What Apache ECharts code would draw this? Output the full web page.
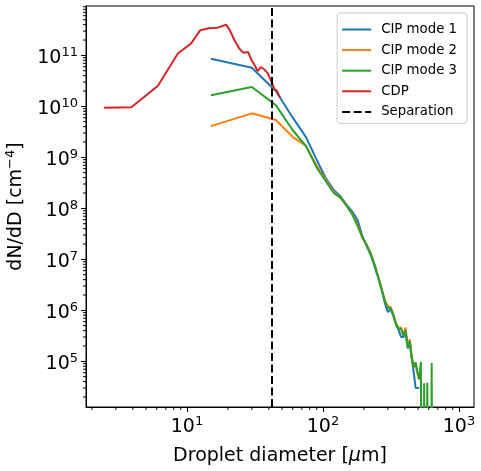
<!DOCTYPE html>
<html>
<head>
<meta charset="utf-8">
<script src="https://cdn.jsdelivr.net/npm/echarts@6/dist/echarts.min.js"></script>
<style>
html, body { margin: 0; padding: 0; background: #fff; }
#chart { width: 481px; height: 471px; }
</style>
</head>
<body>
<div id="chart"></div>
<script>
// CIP bin centres (um) and the three CIP modes, dN/dD in cm^-4
const cipDiameter = [15, 30, 45, 60, 75, 90, 105, 120, 135, 150, 165, 180, 195, 210, 225,
    240, 255, 270, 285, 300, 315, 330, 345, 360, 375, 390, 405, 420, 435, 450, 465, 480,
    495, 510, 525, 540, 555, 570, 585, 600, 615, 630, 645];
const cipMode1 = [8.6e10, 5.7e10, 2.0e10, 6.0e9, 2.5e9, 8.9e8, 3.9e8, 2.3e8, 1.7e8, 1.15e8,
    8.5e7, 5.9e7, 2.8e7, 1.8e7, 1.2e7, 7.2e6, 4.3e6, 2.5e6, 1.4e6, 9.2e5, 1.05e6, 7.6e5,
    5.2e5, 4.1e5, 3.0e5, 3.0e5, 3.4e5, 1.8e5, 2.3e5, 1.1e5, 6.1e4, 3.0e4, 3.0e4, 3.0e4,
    null, null, null, null, null, null, null, null, null];
const cipMode2 = [4.1e9, 7.3e9, 5.4e9, 2.5e9, 1.7e9, 6.8e8, 3.6e8, 2.1e8, 1.6e8, 1.1e8,
    7.6e7, 4.8e7, 2.6e7, 1.9e7, 1.3e7, 7.9e6, 4.6e6, 2.7e6, 1.6e6, 1.2e6, 1.15e6, 8.2e5,
    5.6e5, 4.5e5, 4.6e5, 3.4e5, 4.6e5, 2.0e5, 2.7e5, 1.2e5, 8.0e4, 9.0e4, 5.8e4, 4.3e4,
    null, null, null, null, null, null, null, null, null];
const cipMode3 = [1.66e10, 2.4e10, 1.06e10, 3.4e9, 1.66e9, 6.3e8, 3.4e8, 2.0e8, 1.6e8, 1.1e8,
    7.4e7, 4.5e7, 2.7e7, 1.9e7, 1.26e7, 7.7e6, 4.5e6, 2.6e6, 1.5e6, 1.1e6, 1.1e6, 7.9e5,
    5.4e5, 4.3e5, 4.3e5, 3.2e5, 4.1e5, 1.9e5, 2.5e5, 1.16e5, 7.6e4, 9.6e4, 6.1e4, 4.5e4,
    9.8e4, 0, 3.7e4, 0, 3.8e4, 3.9e4, 0, 9.3e4, 0];

// CDP
const cdpDiameter = [2.45, 3.9, 6.1, 8.6, 10.7, 12.5, 14.5, 16.8, 19.4, 20.7, 22.3, 24.3,
    25.9, 28.2, 29.9, 32.0, 33.1, 35.0, 37.0, 39.2, 41.5, 43.9, 45.7, 46.9, 48.3];
const cdpValues = [9.4e9, 9.6e9, 2.5e10, 1.1e11, 1.7e11, 3.1e11, 3.4e11, 3.5e11, 4.0e11,
    3.1e11, 2.0e11, 1.35e11, 1.13e11, 1.16e11, 8.0e10, 5.9e10, 4.9e10, 5.9e10, 5.3e10,
    4.5e10, 3.2e10, 2.2e10, 2.05e10, 1.9e10, 1.5e10];

const separationDiameter = 42;

const xRange = [1.81, 1290];
const yRange = [1.27e4, 9.3e11];
const xMinorTicks = [2, 3, 4, 5, 6, 7, 8, 9, 20, 30, 40, 50, 60, 70, 80, 90,
    200, 300, 400, 500, 600, 700, 800, 900];
const yMinorTicks = [];
[4, 5, 6, 7, 8, 9, 10, 11].forEach(function (e) {
    [2, 3, 4, 5, 6, 7, 8, 9].forEach(function (m) {
        const v = m * Math.pow(10, e);
        if (v > yRange[0] && v < yRange[1]) yMinorTicks.push(v);
    });
});

const colors = ['#1f77b4', '#ff7f0e', '#2ca02c', '#d62728'];
const FONT = 'DejaVu Sans';

// zeros go far below the axis like matplotlib's log clip
function pairs(xs, ys) {
    const out = [];
    xs.forEach(function (x, i) {
        const y = ys[i];
        if (y === null || y === undefined) return;
        out.push([x, y > 0 ? y : 1e-3]);
    });
    return out;
}

function powLabel(v) {
    const e = Math.log10(v);
    const r = Math.round(e);
    if (Math.abs(e - r) > 1e-6) return '';
    return '{b|10}{s|' + r + '}';
}

const tickRich = {
    b: { fontFamily: FONT, fontSize: 19, lineHeight: 19, padding: [5, 0, 0, 0], color: '#000' },
    s: { fontFamily: FONT, fontSize: 13, lineHeight: 13, verticalAlign: 'top', color: '#000' }
};

function lineSeries(name, data, color) {
    return {
        name: name,
        type: 'line',
        data: data,
        symbol: 'none',
        showSymbol: false,
        animation: false,
        lineStyle: { color: color, width: 2 },
        itemStyle: { color: color }
    };
}

function minorTickSeries(values, isX) {
    return {
        type: 'custom',
        silent: true,
        animation: false,
        clip: false,
        data: values.map(function (v) { return isX ? [v, yRange[0]] : [xRange[0], v]; }),
        renderItem: function (params, api) {
            const p = api.coord([api.value(0), api.value(1)]);
            return {
                type: 'line',
                shape: isX ? { x1: p[0], y1: p[1], x2: p[0], y2: p[1] + 3 }
                           : { x1: p[0], y1: p[1], x2: p[0] - 3, y2: p[1] },
                style: { stroke: '#000', lineWidth: 1 }
            };
        }
    };
}

const chart = echarts.init(document.getElementById('chart'));
chart.setOption({
    animation: false,
    textStyle: { fontFamily: FONT },
    grid: {
        left: 86, right: 7, top: 6, bottom: 64,
        outerBoundsMode: 'none',
        containLabel: false,
        show: true, borderColor: '#000', borderWidth: 1, backgroundColor: '#fff'
    },
    legend: {
        data: ['CIP mode 1', 'CIP mode 2', 'CIP mode 3', 'CDP', 'Separation'],
        orient: 'vertical',
        right: 14,
        top: 13,
        padding: [10, 10, 5, 4],
        itemWidth: 29,
        itemHeight: 14,
        itemGap: 7.6,
        backgroundColor: 'rgba(255,255,255,0.8)',
        borderColor: '#cccccc',
        borderWidth: 1,
        borderRadius: 3,
        itemStyle: { opacity: 0 },
        textStyle: { fontFamily: FONT, fontSize: 13.3, color: '#000', padding: [0, 0, 0, 5] }
    },
    xAxis: {
        type: 'log',
        logBase: 10,
        min: xRange[0],
        max: xRange[1],
        name: '{n|Droplet diameter [}{mu|\u03bc}{n|m]}',
        nameLocation: 'middle',
        nameGap: 40,
        nameTextStyle: {
            rich: {
                n: { fontFamily: FONT, fontSize: 19, color: '#000' },
                mu: { fontFamily: FONT, fontSize: 19, fontStyle: 'italic', color: '#000' }
            }
        },
        axisLine: { show: true, onZero: false, lineStyle: { color: '#000', width: 1 } },
        axisTick: { show: true, inside: false, length: 5, lineStyle: { color: '#000', width: 1 } },
        axisLabel: { margin: 8, formatter: powLabel, rich: tickRich, showMinLabel: false, showMaxLabel: false },
        splitLine: { show: false }
    },
    yAxis: {
        type: 'log',
        logBase: 10,
        min: yRange[0],
        max: yRange[1],
        name: '{n|dN/dD [cm}{s|\u22124}{n|]}',
        nameLocation: 'middle',
        nameRotate: 90,
        nameGap: 63,
        nameTextStyle: {
            rich: {
                n: { fontFamily: FONT, fontSize: 19, lineHeight: 19, padding: [5, 0, 0, 0], color: '#000' },
                s: { fontFamily: FONT, fontSize: 13, lineHeight: 13, verticalAlign: 'top', color: '#000' }
            }
        },
        axisLine: { show: true, onZero: false, lineStyle: { color: '#000', width: 1 } },
        axisTick: { show: true, inside: false, length: 5, lineStyle: { color: '#000', width: 1 } },
        axisLabel: { margin: 8, formatter: powLabel, rich: tickRich, showMinLabel: false, showMaxLabel: false },
        splitLine: { show: false }
    },
    series: [
        lineSeries('CIP mode 1', pairs(cipDiameter, cipMode1), colors[0]),
        lineSeries('CIP mode 2', pairs(cipDiameter, cipMode2), colors[1]),
        lineSeries('CIP mode 3', pairs(cipDiameter, cipMode3), colors[2]),
        lineSeries('CDP', pairs(cdpDiameter, cdpValues), colors[3]),
        {
            name: 'Separation',
            type: 'line',
            data: [],
            symbol: 'none',
            animation: false,
            lineStyle: { color: '#000', width: 2, type: [8, 3.5] },
            itemStyle: { color: '#000' },
            markLine: {
                silent: true,
                symbol: 'none',
                label: { show: false },
                animation: false,
                lineStyle: { color: '#000', width: 2, type: [8, 3.5] },
                data: [{ xAxis: separationDiameter }]
            }
        },
        minorTickSeries(xMinorTicks, true),
        minorTickSeries(yMinorTicks, false)
    ]
});
</script>
</body>
</html>
